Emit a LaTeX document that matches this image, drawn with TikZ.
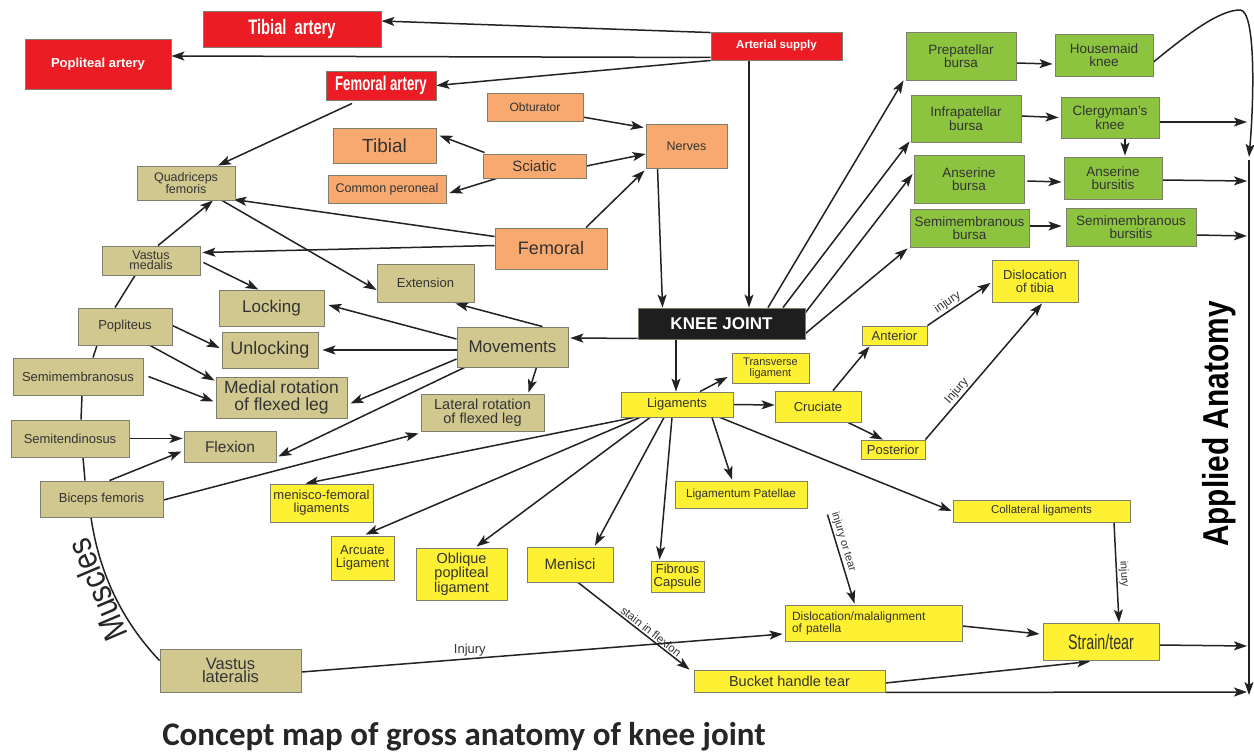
\documentclass[tikz,border=0pt]{standalone}
\usepackage{fontspec}
\setmainfont{Liberation Sans}
\newfontfamily\capfont{Carlito}
\usetikzlibrary{arrows.meta,calc}
\definecolor{cred}{HTML}{EC1C24}
\definecolor{corange}{HTML}{F7A970}
\definecolor{ckhaki}{HTML}{D1C890}
\definecolor{cyellow}{HTML}{FEF032}
\definecolor{cgreen}{HTML}{8CC43F}
\definecolor{cblack}{HTML}{1E1E1E}
\definecolor{cline}{HTML}{222222}
\definecolor{ctext}{HTML}{333333}
\definecolor{cborder}{HTML}{7F7F70}
\pgfdeclarelayer{bottom}
\pgfdeclarelayer{background}
\pgfsetlayers{bottom,background,main}
\tikzset{
  box/.style={draw=cborder, line width=0.9pt, inner sep=0pt, align=center, text=ctext},
  wh/.style 2 args={minimum width=#1, minimum height=#2},
  fs/.style={font=\fontsize{#1}{#1}\selectfont},
  fb/.style={font=\bfseries\fontsize{#1}{#1}\selectfont},
  redbox/.style={box, fill=cred, text=white},
  orbox/.style={box, fill=corange},
  khbox/.style={box, fill=ckhaki},
  yebox/.style={box, fill=cyellow},
  grbox/.style={box, fill=cgreen},
  blbox/.style={box, fill=cblack, text=white},
  conn/.style={line width=1.5pt, draw=cline, -{Stealth[length=13pt,width=9pt,inset=3pt]}},
  plain/.style={line width=1.5pt, draw=cline},
  lbl/.style={font=\fontsize{12}{12}\selectfont, text=ctext, inner sep=1.5pt}
}
\begin{document}
\begin{tikzpicture}[x=1pt,y=-1pt]
\useasboundingbox (0,0) rectangle (1254,753);
\begin{pgfonlayer}{bottom}
\fill[white] (0,0) rectangle (1254,753);
\end{pgfonlayer}

% ---------- red
\node[redbox, wh={178}{36}, fb=21] (ta) at (292,29) {\scalebox{0.7}[1]{Tibial\ \ artery}};
\node[redbox, wh={146}{50}, fb=13] (pa) at (98,64) {Popliteal artery};
\node[redbox, wh={110}{29}, fb=20] (fa) at (381,85.5) {\scalebox{0.66}[1]{Femoral artery}};
\node[redbox, wh={131}{28}, fb=11.5] (as) at (776.5,46) {Arterial supply};

% ---------- orange
\node[orbox, wh={96}{28}, fs=12] (obt) at (535,107) {Obturator};
\node[orbox, wh={103}{35}, fs=19] (tib) at (384.5,145.5) {Tibial};
\node[orbox, wh={103}{24}, fs=15] (sci) at (534.5,166) {Sciatic};
\node[orbox, wh={118}{28}, fs=12.5] (cp) at (387,189) {Common peroneal};
\node[orbox, wh={81}{44}, fs=12.5] (nerves) at (686.5,146) {Nerves};
\node[orbox, wh={112}{41}, fs=18] (fem) at (551,248.5) {Femoral};

% ---------- black
\node[blbox, wh={167}{31}, fb=17] (kj) at (721.5,323.5) {KNEE JOINT};

% ---------- khaki
\node[khbox, wh={98}{34}, fs=12.5] (qf) at (186,183) {Quadriceps\\femoris};
\node[khbox, wh={98}{29}, font=\fontsize{12.5}{10.5}\selectfont] (vm) at (151,260.5) {Vastus\\medalis};
\node[khbox, wh={97}{38}, fs=13] (ext) at (425.5,283) {Extension};
\node[khbox, wh={105}{36}, fs=17] (lock) at (271.5,308) {Locking};
\node[khbox, wh={94}{37}, fs=13] (pop) at (125,326.5) {Popliteus};
\node[khbox, wh={96}{36}, fs=18] (unlock) at (270,350) {Unlocking};
\node[khbox, wh={111}{40}, fs=17] (mov) at (512.5,347) {Movements};
\node[khbox, wh={130}{37}, fs=13] (semim) at (78,376.5) {Semimembranosus};
\node[khbox, wh={131}{41}, font=\fontsize{17.5}{17}\selectfont] (medrot) at (281.5,397.5) {Medial rotation\\of flexed leg};
\node[khbox, wh={123}{37}, font=\fontsize{14.5}{14}\selectfont] (latrot) at (482.5,412.5) {Lateral rotation\\of flexed leg};
\node[khbox, wh={118}{37}, fs=13] (semit) at (70,438.5) {Semitendinosus};
\node[khbox, wh={92}{31}, fs=15.5] (flex) at (230,446.5) {Flexion};
\node[khbox, wh={123}{36}, fs=13] (bf) at (101.5,499) {Biceps femoris};
\node[khbox, wh={141}{43}, font=\fontsize{16.5}{13}\selectfont] (vl) at (230.5,670.5) {Vastus\\lateralis};

% ---------- yellow
\node[yebox, wh={77}{30}, font=\fontsize{11}{11}\selectfont] (tl) at (770.5,368) {Transverse\\ligament};
\node[yebox, wh={112}{25}, fs=13] (lig) at (677,404.5) {Ligaments};
\node[yebox, wh={86}{31}, fs=13] (cru) at (818,406.5) {Cruciate};
\node[yebox, wh={65}{19}, fs=13] (ant) at (894.5,335.5) {Anterior};
\node[yebox, wh={64}{19}, fs=13] (post) at (893,449.5) {Posterior};
\node[yebox, wh={86}{42}, fs=13] (dtib) at (1035,281) {Dislocation\\of tibia};
\node[yebox, wh={103}{38}, fs=13] (mf) at (321.5,503) {menisco-femoral\\ligaments};
\node[yebox, wh={63}{44}, font=\fontsize{13}{12.5}\selectfont] (arc) at (362.5,558) {Arcuate\\Ligament};
\node[yebox, wh={91}{52}, font=\fontsize{14.5}{12.7}\selectfont] (obl) at (461.5,574) {Oblique\\popliteal\\ligament};
\node[yebox, wh={86}{35}, fs=15] (men) at (570,564.5) {Menisci};
\node[yebox, wh={53}{31}, font=\fontsize{13}{12.7}\selectfont] (fc) at (677.5,576.5) {Fibrous\\Capsule};
\node[yebox, wh={132}{27}, fs=11.7] (lp) at (741,494.5) {Ligamentum Patellae};
\node[yebox, wh={177}{22}, fs=11.5] (col) at (1041.5,511) {Collateral ligaments};
\node[yebox, wh={177}{36}, fs=12, text width=163, align=left] (dmp) at (873.5,623) {Dislocation/malalignment\\of patella};
\node[yebox, wh={116}{37}, fs=21] (st) at (1101,641.5) {\scalebox{0.68}[1]{Strain/tear}};
\node[yebox, wh={191}{22}, fs=14.5] (bht) at (789.5,681) {Bucket handle tear};

% ---------- green
\node[grbox, wh={110}{48}, fs=13.5] (pre) at (961,56) {Prepatellar\\bursa};
\node[grbox, wh={98}{42}, fs=13.5] (hk) at (1104,55) {Housemaid\\knee};
\node[grbox, wh={110}{47}, fs=13.5] (infra) at (966,118.5) {Infrapatellar\\bursa};
\node[grbox, wh={98}{41}, fs=13.5] (ck) at (1110,117.5) {Clergyman's\\knee};
\node[grbox, wh={110}{48}, fs=13.5] (ab) at (969,179) {Anserine\\bursa};
\node[grbox, wh={98}{42}, fs=13.5] (abs) at (1113,178) {Anserine\\bursitis};
\node[grbox, wh={119}{38}, fs=13.5] (smb) at (969.5,228) {Semimembranous\\bursa};
\node[grbox, wh={130}{38}, fs=13.5] (smbs) at (1131,227) {Semimembranous\\bursitis};

% ---------- big labels
\node[font=\bfseries\fontsize{36}{36}\selectfont, text=black, rotate=90, inner sep=0pt] (aa) at (1219,424) {\scalebox{0.83}[1]{Applied Anatomy}};
\node[font=\fontsize{34}{34}\selectfont, text=black!85, rotate=113, inner sep=0pt] (mus) at (97,590) {\scalebox{0.85}[1]{Muscles}};
\node[font=\capfont\bfseries\fontsize{33}{33}\selectfont, text=black!85, anchor=base, inner sep=0pt] (cap) at (464,745) {Concept map of gross anatomy of knee joint};

% ---------- right-side coordinates
\coordinate (ctop) at (1240,10);
\coordinate (rtop) at (1249,157);
\coordinate (rtop2) at (1249,160);
\coordinate (rbot) at (1249,695);
\coordinate (r1) at (1247,122);
\coordinate (r2) at (1247,181);
\coordinate (r3) at (1247,236);
\coordinate (r4) at (1247,646);
\coordinate (r5) at (1247,692);

\begin{pgfonlayer}{background}
% arterial
\draw[conn] ($(as.north west)+(0,1)$) -- ($(ta.east)+(0,-8)$);
\draw[conn] ($(as.south west)+(0,-3)$) -- ($(pa.east)+(0,-8)$);
\draw[conn] (as.south west) -- (fa.east);
\draw[conn] ($(as.south)+(-27.5,0)$) -- ($(kj.north)+(27.5,0)$);
\draw[conn] ($(fa.south)+(-29,3)$) -- ($(qf.north)+(32,0)$);
% nerves
\draw[conn] ($(obt.east)+(-1,10)$) -- ($(nerves.north west)+(-2,4)$);
\draw[conn] (sci.east) -- ($(nerves.west)+(0,8)$);
\draw[conn] ($(sci.north west)+(2,-1)$) -- ($(tib.east)+(3,-10)$);
\draw[conn] ($(sci.south west)+(14,0)$) -- ($(cp.east)+(3,4)$);
\draw[conn] ($(fem.north)+(35,0)$) -- ($(nerves.south west)+(-1,2)$);
\draw[conn] ($(nerves.south west)+(12,0)$) -- ($(kj.north west)+(25,0)$);
\draw[conn] ($(fem.west)+(0,-12)$) -- ($(qf.south east)+(-2,-1)$);
\draw[conn] ($(fem.west)+(0,-3)$) -- ($(vm.east)+(2,-8)$);
\draw[conn] ($(qf.south)+(36,0)$) -- ($(ext.west)+(0,7)$);
\draw[conn] ($(vm.east)+(3,2)$) -- ($(lock.north)+(-13,0)$);
\draw[conn] ($(vm.north)+(7,0)$) -- ($(qf.south)+(27,0)$);
% movements
\draw[conn] ($(kj.south west)+(0,-1)$) -- ($(mov.east)+(2,-9)$);
\draw[conn] ($(mov.north)+(30,0)$) -- ($(ext.south)+(30,1)$);
\draw[conn] ($(mov.west)+(0,-8)$) -- ($(lock.east)+(4,-3)$);
\draw[conn] ($(mov.west)+(0,3)$) -- ($(unlock.east)+(4,0)$);
\draw[conn] ($(mov.west)+(0,12)$) -- ($(medrot.east)+(3,6)$);
\draw[conn] ($(mov.south west)+(8,0)$) -- ($(flex.east)+(2,10)$);
\draw[conn] ($(mov.south)+(24,0)$) -- ($(latrot.north)+(46,-1)$);
\draw[conn] ($(bf.east)+(0,1)$) -- ($(latrot.south west)+(-2,2)$);
\draw[conn] ($(bf.north)+(8,0)$) -- ($(flex.west)+(-2,5)$);
\draw[conn] (semit.east) -- ($(flex.west)+(-1,-8)$);
\draw[conn] ($(pop.east)+(0,-1)$) -- ($(unlock.west)+(-2,-2)$);
\draw[conn] ($(pop.south)+(25,0)$) -- ($(medrot.north west)+(-1,4)$);
\draw[conn] ($(semim.east)+(5,0)$) -- ($(medrot.west)+(-2,4)$);
% muscles arc
\draw[plain] ($(vm.south)+(-16,0)$) -- ($(pop.north)+(-10,0)$);
\draw[plain] ($(pop.south)+(-28,0)$) -- ($(semim.north)+(15,0)$);
\draw[plain] ($(semim.south)+(4,0)$) -- ($(semit.north)+(11,0)$);
\draw[plain] ($(semit.south)+(13,0)$) -- ($(bf.north)+(-16.5,0)$);
\draw[plain] ($(bf.south)+(-10.5,0)$) .. controls +(8,55) and +(-38,-40) .. ($(vl.west)+(0,-10)$);
% ligaments
\draw[conn] ($(kj.south)+(-45.5,0)$) -- ($(lig.north)+(-1,0)$);
\draw[conn] ($(lig.north)+(23,0)$) -- ($(tl.west)+(-4,9)$);
\draw[conn] (lig.east) -- ($(cru.west)+(0,-1.5)$);
\draw[conn] ($(cru.north)+(15,0)$) -- ($(ant.south west)+(8,1)$);
\draw[conn] ($(cru.south)+(30,0)$) -- ($(post.north)+(-10,0)$);
\draw[conn] (ant.north east) -- node[lbl, sloped, above, pos=0.39] (l1) {injury} ($(dtib.west)+(-1,2)$);
\draw[conn] (post.north east) -- node[lbl, sloped, above, pos=0.32] (l2) {Injury} ($(dtib.south)+(7,1)$);
\draw[conn] ($(lig.south)+(-43,0)$) -- ($(mf.north)+(-16,0)$);
\draw[conn] ($(lig.south)+(-37,0)$) -- ($(arc.north)+(3,-1)$);
\draw[conn] ($(lig.south)+(-27,0)$) -- ($(obl.north)+(15,-1)$);
\draw[conn] ($(lig.south)+(-13,0)$) -- ($(men.north)+(25,-1)$);
\draw[conn] ($(lig.south)+(-5,0)$) -- ($(fc.north)+(-18,-1)$);
\draw[conn] ($(lig.south)+(35,0)$) -- ($(lp.north)+(-9,-1)$);
\draw[conn] ($(lig.south)+(43,0)$) -- ($(col.west)+(-1,0)$);
\draw[conn] ($(lp.south east)+(20,6)$) -- node[lbl, font=\fontsize{11}{11}\selectfont, sloped, above, pos=0.33] (l3) {injury or tear} ($(dmp.north)+(-19,-1)$);
\draw[conn] ($(col.south)+(72.5,0)$) -- node[lbl, font=\fontsize{11}{11}\selectfont, sloped, above, pos=0.52] (l4) {injury} ($(st.north)+(18,0)$);
\draw[conn] ($(dmp.east)+(0,3)$) -- ($(st.west)+(-3,-7.5)$);
\draw[conn] ($(bht.east)+(0,2)$) -- ($(st.south)+(-11,1)$);
\draw[conn] ($(men.south)+(8,0)$) -- node[lbl, font=\fontsize{11.5}{11.5}\selectfont, sloped, above, pos=0.62] (l5) {stain in flexion} ($(bht.north west)+(-4,0)$);
\draw[conn] ($(vl.east)+(0,1.5)$) -- node[lbl, font=\fontsize{13}{13}\selectfont, above, pos=0.35] (l6) {Injury} ($(dmp.west)+(-2,11)$);
% bursae
\draw[conn] ($(kj.north)+(46.5,0)$) -- ($(pre.south west)+(-2,0)$);
\draw[conn] ($(kj.north)+(61.5,0)$) -- ($(infra.south west)+(-1,-1)$);
\draw[conn] ($(kj.north east)+(0,5)$) -- ($(ab.west)+(-1,-5)$);
\draw[conn] ($(kj.south east)+(0,-6)$) -- ($(smb.south west)+(-2,1)$);
\draw[conn] ($(pre.east)+(0,7)$) -- ($(hk.west)+(-2,9)$);
\draw[conn] ($(infra.east)+(0,-2.5)$) -- ($(ck.west)+(-2,0)$);
\draw[conn] ($(ck.south)+(15,0)$) -- ($(abs.north)+(12,-1)$);
\draw[conn] ($(ab.east)+(3,2)$) -- ($(abs.west)+(-2,4)$);
\draw[conn] ($(smb.east)+(1,-2)$) -- ($(smbs.west)+(-4,-1)$);
% applied anatomy
\draw[conn] ($(hk.east)+(0,7)$) .. controls (1190,32) and (1220,10) .. (ctop) .. controls (1256,10) and (1254,100) .. (rtop);
\draw[conn] (rtop2) -- (rbot);
\draw[conn] ($(ck.east)+(0,4.5)$) -- (r1);
\draw[conn] ($(abs.east)+(0,2)$) -- (r2);
\draw[conn] ($(smbs.east)+(0,8)$) -- (r3);
\draw[conn] ($(st.east)+(0,3.5)$) -- (r4);
\draw[conn] (bht.south east) -- (r5);
\end{pgfonlayer}
\end{tikzpicture}
\end{document}
